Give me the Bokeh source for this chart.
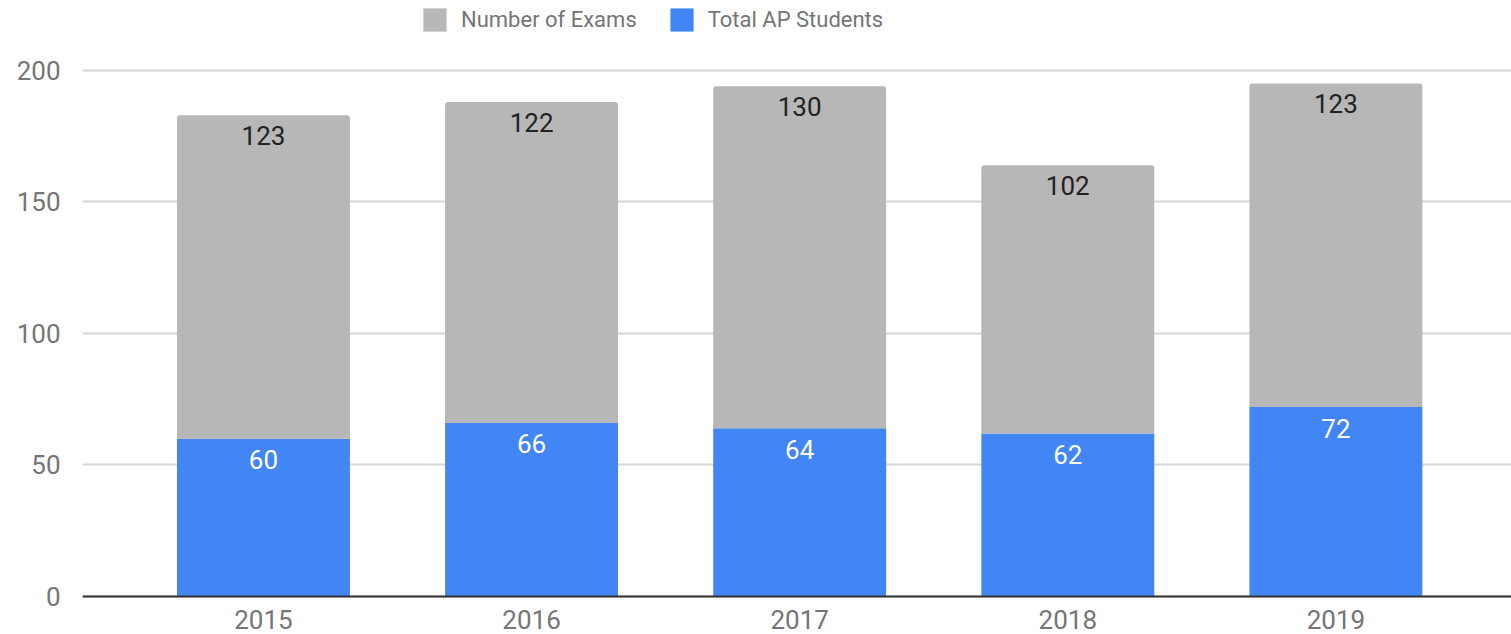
from bokeh.plotting import figure
from bokeh.models import ColumnDataSource, Legend, LegendItem, FixedTicker, Range1d
from bokeh.embed import file_html
from bokeh.resources import INLINE
from bokeh.core.properties import value

years = ["2015", "2016", "2017", "2018", "2019"]
students = [60, 66, 64, 62, 72]
exams = [123, 122, 130, 102, 123]
y_ticks = [0, 50, 100, 150, 200]

GRAY = "#b7b7b7"
BLUE = "#4285f4"
FONT = "Roboto"

xs = list(range(len(years)))
tops = [s + e for s, e in zip(students, exams)]
src = ColumnDataSource(dict(
    x=xs, students=students, exams=exams, tops=tops,
    slab=[str(v) for v in students], elab=[str(v) for v in exams],
))

# frame covers x 82..1511 px and the full height; 0 sits at 596 px, 200 at 70 px
p = figure(width=1511, height=634, output_backend="svg", toolbar_location=None,
           x_range=Range1d(-0.675, 4.655), y_range=Range1d(-14.45, 226.6),
           min_border_left=82, min_border_right=0, min_border_top=0,
           min_border_bottom=0)
p.outline_line_color = None
p.background_fill_color = "white"

r_students = p.vbar(x="x", bottom=0, top="students", width=0.645, source=src,
                    fill_color=BLUE, line_color=None)
r_exams = p.vbar(x="x", bottom="students", top="tops", width=0.645, source=src,
                 fill_color=GRAY, line_color=None, border_radius=(3, 3, 0, 0))

p.text(x="x", y="tops", text="elab", source=src, y_offset=20,
       text_align="center", text_baseline="middle", text_color="#222222",
       text_font=value(FONT), text_font_size="26px")
p.text(x="x", y="students", text="slab", source=src, y_offset=21,
       text_align="center", text_baseline="middle", text_color="#ffffff",
       text_font=value(FONT), text_font_size="26px")

# grid
p.xgrid.visible = False
p.ygrid.ticker = FixedTicker(ticks=y_ticks)
p.ygrid.grid_line_color = "#d6d6d6"
p.ygrid.grid_line_width = 2

# y axis
p.yaxis.ticker = FixedTicker(ticks=y_ticks)
p.yaxis.axis_line_color = None
p.yaxis.major_tick_line_color = None
p.yaxis.minor_tick_line_color = None
p.yaxis.major_label_standoff = 16
p.yaxis.major_label_text_color = "#757575"
p.yaxis.major_label_text_font = FONT
p.yaxis.major_label_text_font_size = "26px"

# x axis, pinned at y = 0
p.xaxis.fixed_location = 0
p.xaxis.ticker = FixedTicker(ticks=xs)
p.xaxis.major_label_overrides = {i: y for i, y in zip(xs, years)}
p.xaxis.axis_line_color = "#333333"
p.xaxis.axis_line_width = 2
p.xaxis.major_tick_line_color = None
p.xaxis.minor_tick_line_color = None
p.xaxis.major_label_standoff = 8
p.xaxis.major_label_text_color = "#757575"
p.xaxis.major_label_text_font = FONT
p.xaxis.major_label_text_font_size = "26px"

legend = Legend(items=[LegendItem(label="Number of Exams", renderers=[r_exams]),
                       LegendItem(label="Total AP Students", renderers=[r_students])],
                orientation="horizontal", location=(338, 600),
                glyph_width=29, glyph_height=29, label_standoff=12, spacing=30,
                padding=0, margin=0, border_line_color=None,
                background_fill_alpha=0,
                label_text_font=FONT, label_text_font_size="22px",
                label_text_color="#757575")
p.add_layout(legend, "center")

open("out.html", "w").write(file_html(p, INLINE))
